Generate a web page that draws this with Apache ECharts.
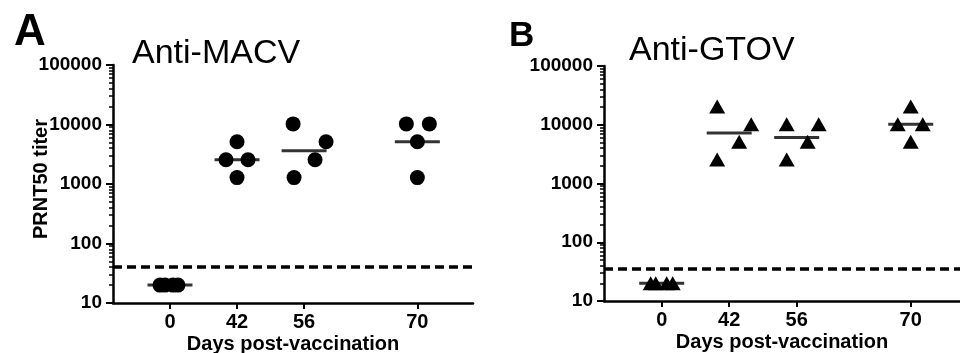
<!DOCTYPE html>
<html>
<head>
<meta charset="utf-8">
<script src="https://cdn.jsdelivr.net/npm/echarts@6/dist/echarts.min.js"></script>
<style>
html, body { margin: 0; padding: 0; background: #fff; }
#chart { width: 960px; height: 353px; }
</style>
</head>
<body>
<div id="chart"></div>
<script>
// data
const days = ['0', '42', '56', '70'];
const yTicks = [10, 100, 1000, 10000, 100000];

const macv = [
	[20, 20, 20, 20],
	[5120, 2560, 2560, 1280],
	[10240, 5120, 2560, 1280],
	[10240, 10240, 5120, 1280]
];
const macvMean = [20, 2560, 3620, 5120];
const macvCutoff = 40;

const gtov = [
	[20, 20, 20, 20],
	[20480, 10240, 5120, 2560],
	[10240, 10240, 5120, 2560],
	[20480, 10240, 10240, 5120]
];
const gtovMean = [20, 7240, 6090, 10240];
const gtovCutoff = 35;

// layout: slot of each day on the x axis, and horizontal scatter (px) of the points
const dayPos = [0, 1, 2, 3.69];
const macvJitter = [[-10, -5, 3, 8], [0, -11, 11, 0], [-11, 22, 11, -10], [-11, 12, 0, 0]];
const gtovJitter = [[-11, -6, 5, 11], [-12, 22, 10, -12], [-10, 22, 11, -10], [0, -13, 12, 0]];

const FONT = 'Liberation Sans, Arial, Helvetica, sans-serif';

// minor ticks 2..9 in every decade
const minorTicks = [];
yTicks.slice(0, -1).forEach(d => {
	for (let k = 2; k <= 9; k++) minorTicks.push(k * d);
});

function xAxisOf(gridIndex, min, max) {
	return {
		type: 'value',
		gridIndex: gridIndex,
		min: min,
		max: max,
		name: 'Days post-vaccination',
		nameLocation: 'middle',
		nameGap: 31,
		nameMoveOverlap: false,
		nameTextStyle: { color: '#000', fontFamily: FONT, fontWeight: 'bold', fontSize: 20 },
		axisLine: { onZero: false, lineStyle: { color: '#000', width: 2.5 } },
		axisTick: { customValues: dayPos, length: 6, lineStyle: { color: '#000', width: 2 } },
		axisLabel: {
			customValues: dayPos,
			margin: 9,
			color: '#000',
			fontFamily: FONT,
			fontWeight: 'bold',
			fontSize: 20,
			formatter: v => days[dayPos.indexOf(v)]
		},
		splitLine: { show: false }
	};
}

function yAxisOf(gridIndex, name) {
	return {
		type: 'log',
		logBase: 10,
		gridIndex: gridIndex,
		position: 'left',
		min: 10,
		max: 100000,
		name: name,
		nameLocation: 'middle',
		nameGap: 62,
		nameMoveOverlap: false,
		nameTextStyle: { color: '#000', fontFamily: FONT, fontWeight: 'bold', fontSize: 20, padding: [0, 0, 0, 10] },
		axisLine: { show: true, onZero: false, lineStyle: { color: '#000', width: 2.5 } },
		axisTick: { customValues: yTicks, length: 7, lineStyle: { color: '#000', width: 2 } },
		axisLabel: {
			customValues: yTicks,
			margin: 11,
			color: '#000',
			fontFamily: FONT,
			fontWeight: 'bold',
			fontSize: 19,
			formatter: v => String(v)
		},
		splitLine: { show: false }
	};
}

function minorAxisOf(gridIndex) {
	return {
		type: 'log',
		logBase: 10,
		gridIndex: gridIndex,
		position: 'left',
		offset: 0,
		min: 10,
		max: 100000,
		axisLine: { show: false, onZero: false },
		axisTick: { customValues: minorTicks, length: 4, lineStyle: { color: '#000', width: 1.5 } },
		axisLabel: { show: false },
		splitLine: { show: false }
	};
}

function pointsOf(values, jitter) {
	const out = [];
	values.forEach((group, i) => {
		group.forEach((v, j) => {
			out.push({ value: [dayPos[i], v], symbolOffset: [jitter[i][j], 0] });
		});
	});
	return out;
}

function seriesOf(index, values, jitter, means, cutoff, symbol, size) {
	return [
		{
			type: 'scatter',
			xAxisIndex: index,
			yAxisIndex: index * 2,
			symbol: symbol,
			symbolSize: size,
			itemStyle: { color: '#000', opacity: 1 },
			data: pointsOf(values, jitter),
			markLine: {
				silent: true,
				symbol: 'none',
				label: { show: false },
				lineStyle: { color: '#000', width: 3.5, type: [9, 5] },
				data: [{ yAxis: cutoff }]
			}
		},
		{
			type: 'scatter',
			xAxisIndex: index,
			yAxisIndex: index * 2,
			symbol: 'rect',
			symbolSize: [45, 3],
			itemStyle: { color: '#000' },
			data: means.map((m, i) => [dayPos[i], m])
		}
	];
}

const chart = echarts.init(document.getElementById('chart'), null, { renderer: 'canvas' });
chart.setOption({
	animation: false,
	backgroundColor: '#fff',
	title: [
		{ text: 'A', left: 9, top: 6, textStyle: { fontFamily: FONT, fontWeight: 'bold', fontSize: 44, color: '#000' } },
		{ text: 'Anti-MACV', left: 127, top: 32, textStyle: { fontFamily: FONT, fontWeight: 'normal', fontSize: 34, color: '#000' } },
		{ text: 'B', left: 504, top: 14, textStyle: { fontFamily: FONT, fontWeight: 'bold', fontSize: 35, color: '#000' } },
		{ text: 'Anti-GTOV', left: 624, top: 29, textStyle: { fontFamily: FONT, fontWeight: 'normal', fontSize: 34, color: '#000' } }
	],
	grid: [
		{ left: 113, top: 65, width: 360, height: 238, outerBoundsMode: 'none' },
		{ left: 604, top: 66, width: 356, height: 235, outerBoundsMode: 'none' }
	],
	xAxis: [xAxisOf(0, -0.85, 4.52), xAxisOf(1, -0.855, 4.42)],
	yAxis: [yAxisOf(0, 'PRNT50 titer'), minorAxisOf(0), yAxisOf(1, ''), minorAxisOf(1)],
	series: [
		...seriesOf(0, macv, macvJitter, macvMean, macvCutoff, 'circle', 15),
		...seriesOf(1, gtov, gtovJitter, gtovMean, gtovCutoff, 'triangle', [16, 14])
	]
});
</script>
</body>
</html>
